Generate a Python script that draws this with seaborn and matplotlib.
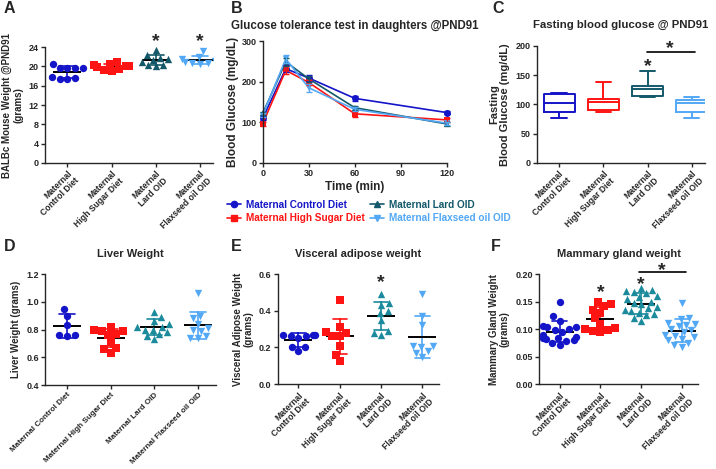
import numpy as np
import pandas as pd
import matplotlib.pyplot as plt
import seaborn as sns
from matplotlib.lines import Line2D

groups = ['Maternal Control Diet', 'Maternal High Sugar Diet',
          'Maternal Lard OID', 'Maternal Flaxseed oil OID']
labels_two = ['Maternal\nControl Diet', 'Maternal\nHigh Sugar Diet',
              'Maternal\nLard OID', 'Maternal\nFlaxseed oil OID']
markers = ['o', 's', '^', 'v']

# A - body weight @PND91 (grams)
weight_control = [19.7, 19.7, 19.7, 19.6, 20.6, 17.5, 17.5, 17.6, 17.8]
weight_sugar = [20.5, 20.3, 21.0, 19.2, 19.5, 19.8, 20.0, 19.0, 20.1]
weight_lard = [23.5, 22.3, 21.8, 21.5, 21.0, 20.2, 20.0, 20.3, 21.4]
weight_flax = [23.3, 22.0, 21.5, 21.2, 20.8, 20.5, 20.7, 21.0, 21.5]

# B - glucose tolerance test (mean, SEM)
gtt_time = [0, 15, 30, 60, 120]
gtt_control = [110, 232, 209, 159, 124]
gtt_sugar = [97, 228, 198, 121, 106]
gtt_lard = [122, 249, 207, 136, 96]
gtt_flax = [118, 256, 185, 132, 98]
gtt_control_sem = [5, 8, 7, 6, 4]
gtt_sugar_sem = [5, 10, 6, 7, 4]
gtt_lard_sem = [4, 10, 8, 5, 4]
gtt_flax_sem = [5, 9, 10, 5, 4]

# C - fasting glucose (min, Q1, median, Q3, max)
fast_control = [77, 87, 102, 118, 120]
fast_sugar = [87, 91, 105, 109, 138]
fast_lard = [112, 115, 127, 132, 158]
fast_flax = [77, 87, 102, 108, 113]

# D - liver weight (grams)
liver_control = [0.95, 0.90, 0.83, 0.76, 0.755, 0.76]
liver_sugar = [0.82, 0.80, 0.79, 0.79, 0.77, 0.76, 0.71, 0.67, 0.66, 0.63]
liver_lard = [0.93, 0.89, 0.86, 0.84, 0.82, 0.82, 0.80, 0.80, 0.78, 0.77, 0.75, 0.73]
liver_flax = [1.06, 0.90, 0.88, 0.84, 0.81, 0.80, 0.79, 0.75, 0.74, 0.74]

# E - visceral adipose weight (grams)
visc_control = [0.27, 0.27, 0.27, 0.265, 0.26, 0.25, 0.20, 0.20, 0.18]
visc_sugar = [0.46, 0.31, 0.28, 0.285, 0.26, 0.26, 0.21, 0.16, 0.125]
visc_lard = [0.49, 0.44, 0.43, 0.40, 0.39, 0.35, 0.29, 0.28, 0.27]
visc_flax = [0.49, 0.37, 0.32, 0.21, 0.21, 0.20, 0.18, 0.17, 0.15]

# F - mammary gland weight (grams)
mam_control = [0.150, 0.123, 0.115, 0.105, 0.104, 0.103, 0.100, 0.098, 0.095,
               0.090, 0.085, 0.084, 0.083, 0.082, 0.080, 0.078, 0.075, 0.071]
mam_sugar = [0.150, 0.145, 0.142, 0.135, 0.130, 0.120, 0.110, 0.102, 0.100,
             0.098, 0.096, 0.095]
mam_lard = [0.175, 0.172, 0.170, 0.168, 0.165, 0.160, 0.158, 0.155, 0.150, 0.148,
            0.145, 0.140, 0.138, 0.135, 0.133, 0.130, 0.128, 0.125, 0.120, 0.115]
mam_flax = [0.148, 0.120, 0.118, 0.112, 0.108, 0.110, 0.105, 0.100, 0.098,
            0.095, 0.090, 0.088, 0.085, 0.082, 0.080, 0.075, 0.072, 0.068]

pal_dark = ['#1414C8', '#FF1414', '#14596A', '#52A8F5']
pal_light = ['#1414C8', '#FF1414', '#1A8A9C', '#52A8F5']

sns.set_style('ticks')
plt.rcParams['font.family'] = ['Liberation Sans', 'DejaVu Sans']
plt.rcParams['font.weight'] = 'bold'
plt.rcParams['axes.labelweight'] = 'bold'
plt.rcParams['axes.linewidth'] = 1.0

fig = plt.figure(figsize=(7.16, 4.69), dpi=100)


def style_axis(ax):
    sns.despine(ax=ax)
    ax.tick_params(length=3, width=1, pad=1.5)
    ax.tick_params(axis='y', labelsize=6.5)
    for lab in ax.get_yticklabels():
        lab.set_fontweight('bold')


def scatter_panel(rect, values, palette, ylim, yticks, yfmt, ylabel, title,
                  xlabels, xmax, xfont=6.2):
    ax = fig.add_axes(rect)
    df = pd.DataFrame({'group': np.repeat(groups, [len(v) for v in values]),
                       'value': np.concatenate(values)})
    for g, m, c in zip(groups, markers, palette):
        sub = df[df['group'] == g]
        sns.swarmplot(data=sub, x='group', y='value', order=groups, color=c,
                      marker=m, size=5.3, linewidth=0, ax=ax)
    sns.pointplot(data=df, x='group', y='value', order=groups, hue='group',
                  palette=palette, errorbar='sd', capsize=0.35, linestyle='none',
                  markersize=0, err_kws={'linewidth': 1.2}, legend=False, ax=ax)
    sns.pointplot(data=df, x='group', y='value', order=groups, color='black',
                  errorbar=None, marker='_', markersize=20, markeredgewidth=1.4,
                  linestyle='none', ax=ax)
    ax.set_ylim(*ylim)
    ax.set_yticks(yticks)
    ax.set_yticklabels([yfmt.format(t) for t in yticks])
    ax.set_xlim(-0.5, xmax)
    ax.set_xticks(range(4))
    ax.set_xlabel('')
    ax.set_ylabel(ylabel, fontsize=7, fontweight='bold', linespacing=1.1)
    if title:
        ax.set_title(title, fontsize=8, fontweight='bold', pad=12)
    style_axis(ax)
    ax.set_xticklabels(xlabels, rotation=45, ha='right', rotation_mode='anchor',
                       fontsize=xfont, fontweight='bold', linespacing=1.1)
    return ax


def star(ax, x, y, size=14):
    # y is where the asterisk glyph itself should be centred
    ax.annotate('*', (x, y), xytext=(0, -3.3), textcoords='offset points',
                ha='center', va='center', fontsize=size, fontweight='bold',
                annotation_clip=False)


# ---- A
axA = scatter_panel([0.063, 0.6525, 0.235, 0.247],
                    [weight_control, weight_sugar, weight_lard, weight_flax],
                    pal_dark, (0, 24), [0, 4, 8, 12, 16, 20, 24], '{:.0f}',
                    'BALBc Mouse Weight @PND91\n(grams)', None, labels_two, 3.3)
star(axA, 2, 26.1)
star(axA, 3, 26.1)

# ---- B
axB = fig.add_axes([0.367, 0.6525, 0.257, 0.260])
gtt_means = [gtt_control, gtt_sugar, gtt_lard, gtt_flax]
gtt_sems = [gtt_control_sem, gtt_sugar_sem, gtt_lard_sem, gtt_flax_sem]
dfb = pd.DataFrame({'time': np.tile(gtt_time, 4),
                    'glucose': np.concatenate(gtt_means),
                    'group': np.repeat(groups, len(gtt_time))})
sns.lineplot(data=dfb, x='time', y='glucose', hue='group', style='group',
             hue_order=groups, style_order=groups, palette=pal_dark,
             markers=markers, dashes=False, markersize=5, markeredgewidth=0,
             linewidth=1.2, legend=False, ax=axB, clip_on=False)
for mean, sem, c in zip(gtt_means, gtt_sems, pal_dark):
    axB.errorbar(gtt_time, mean, yerr=sem, fmt='none', ecolor=c, elinewidth=1,
                 capsize=2, capthick=1, clip_on=False)
axB.set_xlim(0, 120)
axB.set_ylim(0, 300)
axB.set_xticks([0, 30, 60, 90, 120])
axB.set_yticks([0, 100, 200, 300])
axB.set_xlabel('Time (min)', fontsize=8.5, fontweight='bold', labelpad=2)
axB.set_ylabel('Blood Glucose (mg/dL)', fontsize=8.5, fontweight='bold', labelpad=2)
axB.set_title('Glucose tolerance test in daughters @PND91', fontsize=8.3,
              fontweight='bold', loc='left', x=-0.175, pad=9)
style_axis(axB)
axB.tick_params(axis='x', labelsize=6.5)
for lab in axB.get_xticklabels():
    lab.set_fontweight('bold')
handles = [Line2D([0], [0], color=c, marker=m, markersize=4.5, linewidth=1.2)
           for c, m in zip(pal_dark, markers)]
leg = axB.legend(handles, groups, ncol=2, loc='upper left',
                 bbox_to_anchor=(-0.215, -0.27), frameon=False,
                 prop={'size': 7.2, 'weight': 'bold'}, handlelength=1.4,
                 handletextpad=0.5, columnspacing=0.5, labelspacing=0.35,
                 borderaxespad=0)
for txt, c in zip(leg.get_texts(), pal_dark):
    txt.set_color(c)

# ---- C
axC = fig.add_axes([0.750, 0.6525, 0.2346, 0.2495])
fast_vals = [fast_control, fast_sugar, fast_lard, fast_flax]
dfc = pd.DataFrame({'group': np.repeat(groups, [len(v) for v in fast_vals]),
                    'value': np.concatenate(fast_vals)})
sns.boxplot(data=dfc, x='group', y='value', order=groups, hue='group',
            hue_order=groups, palette=pal_dark, fill=False, whis=(0, 100),
            width=0.7, linewidth=1.4, legend=False, ax=axC)
axC.set_ylim(0, 200)
axC.set_yticks([0, 50, 100, 150, 200])
axC.set_xlim(-0.5, 3.3)
axC.set_xticks(range(4))
axC.set_xlabel('')
axC.set_ylabel('Fasting\nBlood Glucose (mg/dL)', fontsize=8, fontweight='bold',
               linespacing=1.1)
axC.set_title('Fasting blood glucose @ PND91', fontsize=8.2, fontweight='bold', pad=13)
style_axis(axC)
axC.set_xticklabels(labels_two, rotation=45, ha='right', rotation_mode='anchor',
                    fontsize=6.2, fontweight='bold', linespacing=1.1)
star(axC, 2, 173)
axC.plot([1.98, 3.07], [189, 189], color='black', lw=1.2, clip_on=False)
star(axC, 2.5, 203)

# ---- D
axD = scatter_panel([0.063, 0.179, 0.238, 0.2367],
                    [liver_control, liver_sugar, liver_lard, liver_flax],
                    pal_light, (0.4, 1.2), [0.4, 0.6, 0.8, 1.0, 1.2], '{:.1f}',
                    'Liver Weight (grams)', 'Liver Weight', groups, 3.4, xfont=5.8)

# ---- E
axE = scatter_panel([0.388, 0.181, 0.225, 0.2345],
                    [visc_control, visc_sugar, visc_lard, visc_flax],
                    pal_light, (0, 0.6), [0.0, 0.2, 0.4, 0.6], '{:.1f}',
                    'Visceral Adipose Weight\n(grams)', 'Visceral adipose weight',
                    labels_two, 3.4)
star(axE, 2, 0.58)

# ---- F
axF = scatter_panel([0.753, 0.181, 0.222, 0.2345],
                    [mam_control, mam_sugar, mam_lard, mam_flax],
                    pal_light, (0, 0.2), [0.0, 0.05, 0.10, 0.15, 0.20], '{:.2f}',
                    'Mammary Gland Weight\n(grams)', 'Mammary gland weight',
                    labels_two, 3.4)
star(axF, 1, 0.175)
star(axF, 2, 0.189)
axF.plot([1.95, 3.1], [0.204, 0.204], color='black', lw=1.2, clip_on=False)
star(axF, 2.5, 0.214)

# panel letters
for letter, x, y in [('A', 0.005, 0.997), ('B', 0.322, 0.997), ('C', 0.687, 0.997),
                     ('D', 0.005, 0.49), ('E', 0.322, 0.49), ('F', 0.686, 0.49)]:
    fig.text(x, y, letter, fontsize=11.5, fontweight='bold', va='top')

fig.savefig('out.png', dpi=100)
